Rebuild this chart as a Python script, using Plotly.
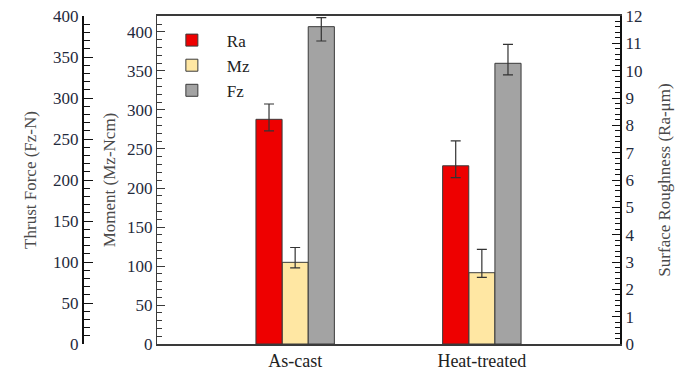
import plotly.graph_objects as go

categories = ["As-cast", "Heat-treated"]

ra_values = [8.22, 6.52]
ra_err_plus = [0.56, 0.91]
ra_err_minus = [0.42, 0.43]

mz_values = [104.7, 91.4]
mz_err_plus = [19.0, 30.0]
mz_err_minus = [7.0, 6.0]

fz_values = [387.0, 342.3]
fz_err_plus = [11.0, 23.0]
fz_err_minus = [17.5, 14.0]

W, H = 688, 376
x0, x1 = 157, 620
ytop, ybot = 16, 344

font_family = "Liberation Serif"
tick_color = "#1f2a3c"
title_color = "#4a4a4a"
edge = "#3a3a3a"

bar_w = 0.14

fig = go.Figure()

fig.add_trace(go.Bar(
    name="Ra", x=categories, y=ra_values, yaxis="y2",
    width=bar_w, offset=-0.21,
    marker=dict(color="#ee0000", line=dict(color=edge, width=1)),
    error_y=dict(type="data", symmetric=False, array=ra_err_plus, arrayminus=ra_err_minus,
                 color="#333333", thickness=1.2, width=5),
))
fig.add_trace(go.Bar(
    name="Mz", x=categories, y=mz_values, yaxis="y",
    width=bar_w, offset=-0.07,
    marker=dict(color="#ffe7a3", line=dict(color=edge, width=1)),
    error_y=dict(type="data", symmetric=False, array=mz_err_plus, arrayminus=mz_err_minus,
                 color="#333333", thickness=1.2, width=5),
))
fig.add_trace(go.Bar(
    name="Fz", x=categories, y=fz_values, yaxis="y3",
    width=bar_w, offset=0.07,
    marker=dict(color="#a3a3a3", line=dict(color=edge, width=1)),
    error_y=dict(type="data", symmetric=False, array=fz_err_plus, arrayminus=fz_err_minus,
                 color="#333333", thickness=1.2, width=5),
))

ydom = [(H - ybot) / H, (H - ytop) / H]
tickfont = dict(family=font_family, size=17, color=tick_color)
titlefont = dict(family=font_family, size=17, color=title_color)

fig.update_layout(
    width=W, height=H,
    margin=dict(l=0, r=0, t=0, b=0, autoexpand=False),
    paper_bgcolor="white", plot_bgcolor="white",
    barmode="overlay",
    showlegend=True,
    legend=dict(x=0.228, y=0.94, xanchor="left", yanchor="top",
                font=dict(family=font_family, size=17, color="#222"),
                bgcolor="rgba(0,0,0,0)", tracegroupgap=0, itemwidth=60),
    xaxis=dict(
        domain=[x0 / W, x1 / W], range=[-0.74, 1.74], automargin=False,
        showline=True, mirror=True, linecolor=edge, linewidth=1.5,
        ticks="", showgrid=False, zeroline=False,
        tickfont=dict(family=font_family, size=18, color="#222"),
    ),
    yaxis=dict(
        domain=ydom, range=[0, 420.5], dtick=50, automargin=False,
        showline=True, linecolor=edge, linewidth=1.2,
        ticks="inside", ticklen=8, tickcolor=edge, tickwidth=1,
        minor=dict(dtick=10, ticks="inside", ticklen=5, tickcolor=edge, tickwidth=1),
        showgrid=False, zeroline=False, tickfont=tickfont,
        title=dict(text="Moment (Mz-Ncm)", font=titlefont, standoff=7),
    ),
    yaxis2=dict(
        overlaying="y", side="right", anchor="x", range=[0, 12], dtick=1, automargin=False,
        showline=True, linecolor="#111", linewidth=2,
        ticks="inside", ticklen=8, tickcolor="#111", tickwidth=1,
        minor=dict(dtick=0.2, ticks="inside", ticklen=5, tickcolor="#111", tickwidth=1),
        showgrid=False, zeroline=False, tickfont=tickfont,
        title=dict(text="Surface Roughness (Ra-μm)", font=titlefont, standoff=17),
    ),
    yaxis3=dict(
        overlaying="y", side="left", anchor="free", position=83 / W,
        range=[0, 400], dtick=50, automargin=False,
        showline=True, linecolor="#111", linewidth=2,
        ticks="inside", ticklen=9, tickcolor="#111", tickwidth=1,
        minor=dict(dtick=10, ticks="inside", ticklen=6, tickcolor="#111", tickwidth=1),
        showgrid=False, zeroline=False, tickfont=tickfont,
        title=dict(text="Thrust Force (Fz-N)", font=titlefont, standoff=11),
    ),
)

fig.write_html("out.html")
